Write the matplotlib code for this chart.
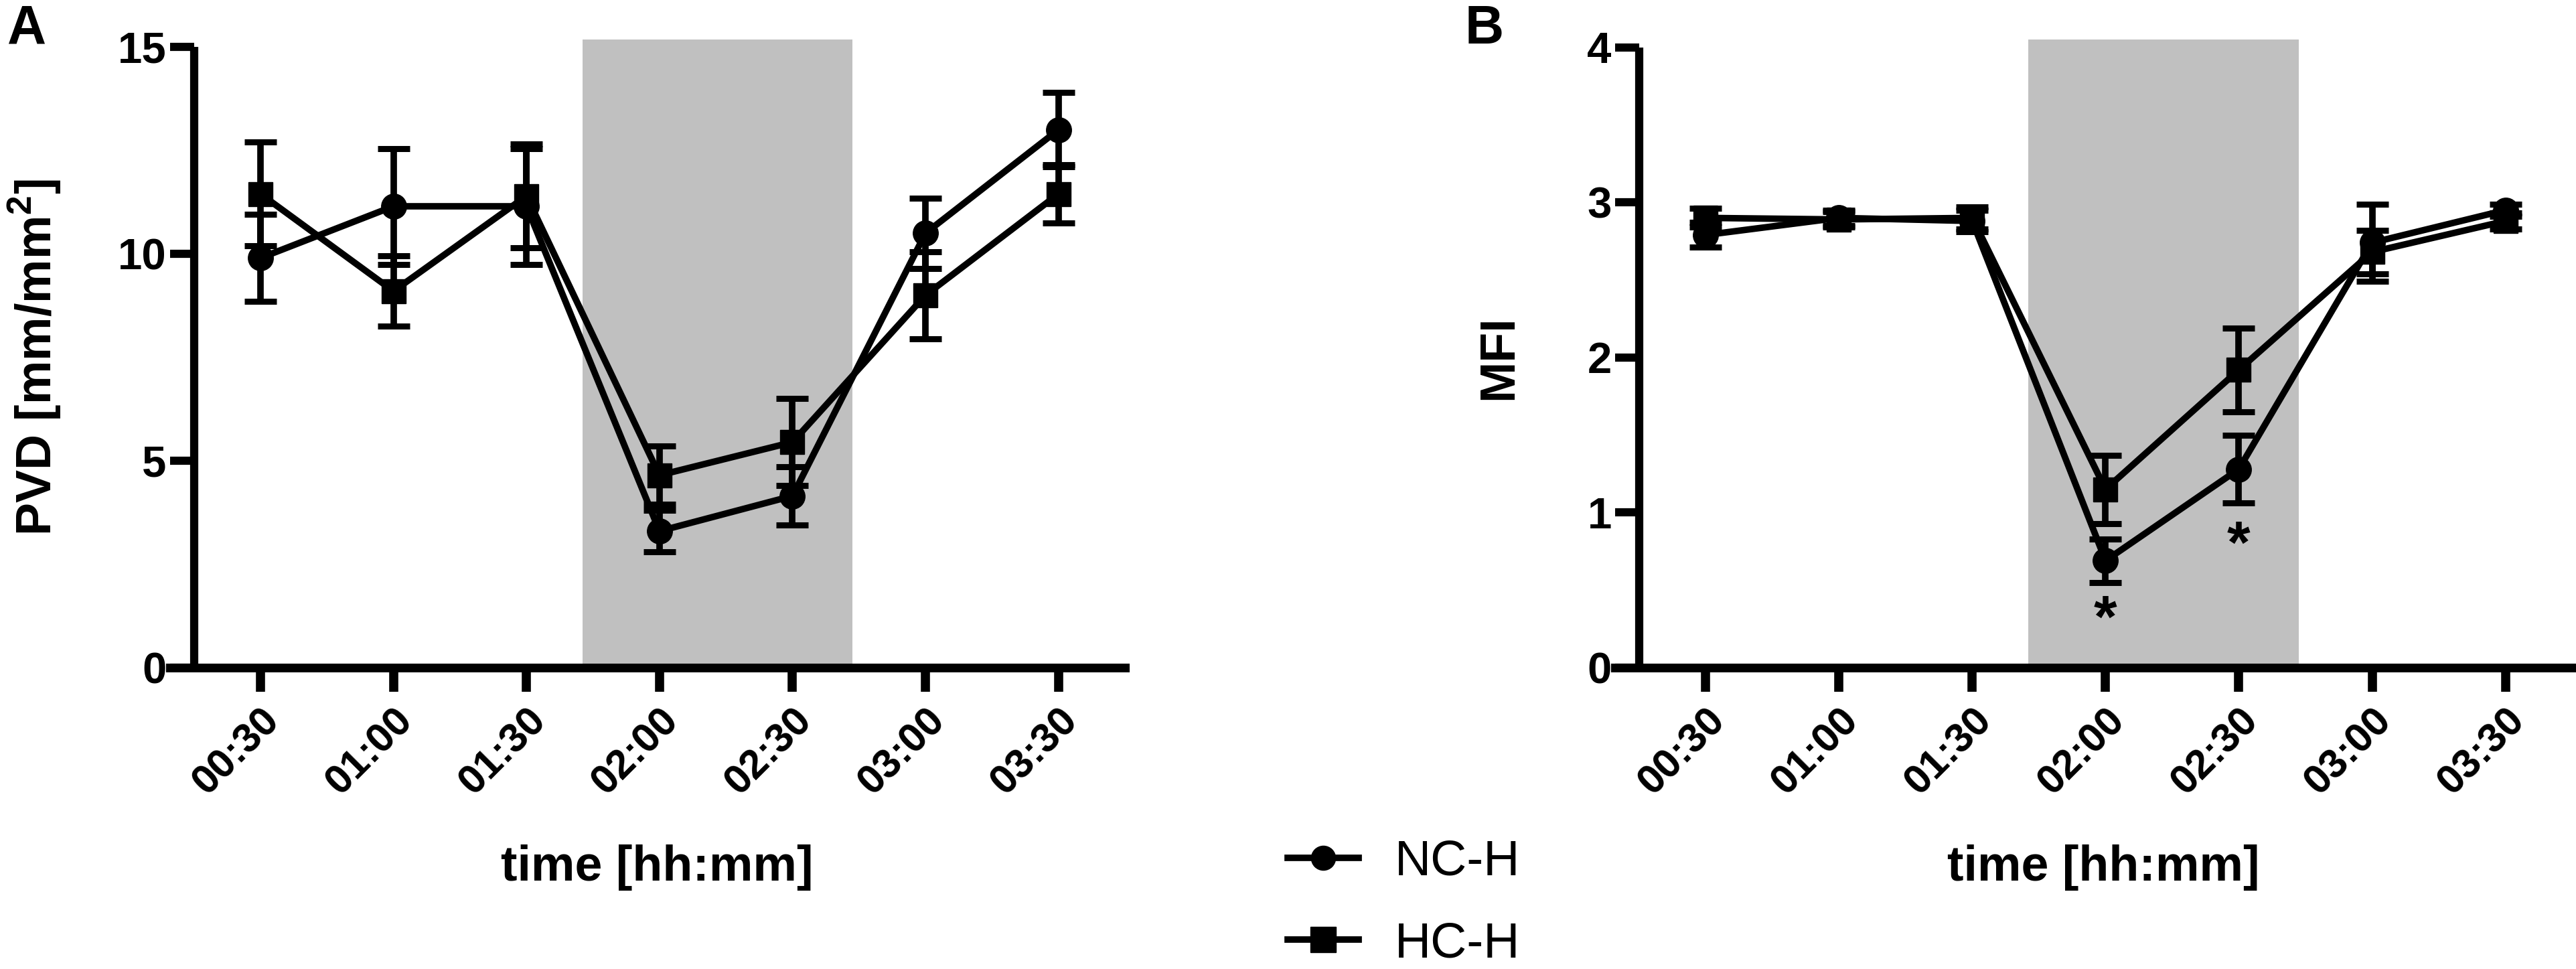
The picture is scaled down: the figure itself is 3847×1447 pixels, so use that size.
import matplotlib
matplotlib.use("Agg")
import matplotlib.pyplot as plt
from matplotlib.lines import Line2D
from matplotlib import font_manager
import numpy as np

# ---------------- data ----------------
times = ["00:30", "01:00", "01:30", "02:00", "02:30", "03:00", "03:30"]

pvd_nch = [9.9, 11.15, 11.15, 3.3, 4.15, 10.5, 13.0]
pvd_nch_err = [1.05, 1.4, 1.4, 0.5, 0.7, 0.85, 0.9]
pvd_hch = [11.45, 9.1, 11.4, 4.65, 5.45, 9.0, 11.45]
pvd_hch_err = [1.25, 0.85, 1.25, 0.7, 1.05, 1.05, 0.7]

mfi_nch = [2.79, 2.9, 2.88, 0.69, 1.28, 2.74, 2.95]
mfi_nch_err = [0.08, 0.05, 0.07, 0.14, 0.22, 0.25, 0.04]
mfi_hch = [2.9, 2.89, 2.9, 1.15, 1.92, 2.68, 2.88]
mfi_hch_err = [0.06, 0.05, 0.07, 0.22, 0.27, 0.14, 0.05]

shade_span = (2.42, 4.45)
series_labels = ["NC-H", "HC-H"]
star_positions = [3, 4]
star_values = [0.30, 0.78]

# ---------------- fonts ----------------
REG = ["Liberation Sans", "DejaVu Sans"]
try:
    font_manager.findfont(font_manager.FontProperties(
        family="Liberation Sans Narrow", weight="bold"),
        fallback_to_default=False)
    TICKFAM = ["Liberation Sans Narrow", "Liberation Sans", "DejaVu Sans"]
    TICKSIZE = 52
except Exception:
    TICKFAM = REG
    TICKSIZE = 47

plt.rcParams["font.family"] = REG
plt.rcParams["mathtext.fontset"] = "custom"
plt.rcParams["mathtext.rm"] = "Liberation Sans"
plt.rcParams["mathtext.bf"] = "Liberation Sans:bold"

fig = plt.figure(figsize=(38.48, 14.47), dpi=100)
bottom = 0.311
height = 0.6482
axA = fig.add_axes([0.0660, bottom, 0.3706, height])
axB = fig.add_axes([0.6268, bottom, 0.3714, height])

x = np.arange(len(times))
LW = 7
SPW = 8.8


def style_axis(ax, ymax_top, yticks, ylabel, label_x):
    ax.set_xlim(-0.68, 6.5)
    ax.set_ylim(0, ymax_top)
    for s in ["top", "right"]:
        ax.spines[s].set_visible(False)
    ax.spines["left"].set_position(("data", -0.5))
    ax.spines["left"].set_linewidth(SPW)
    ax.spines["bottom"].set_linewidth(SPW + 0.6)
    ax.spines["left"].set_bounds(0, yticks[-1])
    ax.spines["left"].set_capstyle("butt")
    ax.spines["bottom"].set_zorder(5)
    ax.set_yticks(yticks)
    ax.set_yticklabels([str(t) for t in yticks], fontfamily=TICKFAM,
                       fontweight="bold", fontsize=TICKSIZE)
    ax.set_xticks(x)
    ax.set_xticklabels(times, rotation=45, ha="right", va="top",
                       rotation_mode="anchor", fontfamily=TICKFAM,
                       fontweight="bold", fontsize=TICKSIZE - 3)
    ax.tick_params(axis="y", length=26, width=SPW, pad=3.5)
    ax.tick_params(axis="x", length=26, width=SPW + 1, pad=10)
    ax.set_ylabel(ylabel, fontfamily=REG, fontweight="bold", fontsize=53)
    ax.yaxis.set_label_coords(label_x, (yticks[-1] / 2) / ymax_top)
    ax.yaxis.label.set_va("center")
    ax.set_xlabel("time [hh:mm]", fontfamily=REG, fontweight="bold",
                  fontsize=53)
    ax.xaxis.set_label_coords(0.51, -0.318)
    ax.xaxis.label.set_va("center")
    ax.axvspan(shade_span[0], shade_span[1], color="#c0c0c0", zorder=0,
               lw=0)


def plot_series(ax, y1, e1, y2, e2):
    ax.errorbar(x, y1, yerr=e1, color="black", lw=LW, marker="o", ms=27,
                capsize=17, capthick=LW - 0.5, elinewidth=LW, zorder=3,
                clip_on=False)
    ax.errorbar(x, y2, yerr=e2, color="black", lw=LW, marker="s", ms=26,
                capsize=17, capthick=LW - 0.5, elinewidth=LW, zorder=3,
                clip_on=False)


plot_series(axA, pvd_nch, pvd_nch_err, pvd_hch, pvd_hch_err)
style_axis(axA, 15.18, [0, 5, 10, 15], r"PVD [mm/mm$^{\mathbf{2}}$]",
           -0.1417)

plot_series(axB, mfi_nch, mfi_nch_err, mfi_hch, mfi_hch_err)
style_axis(axB, 4.05, [0, 1, 2, 3, 4], "MFI", -0.121)

for px, py in zip(star_positions, star_values):
    axB.text(px, py, "*", ha="center", va="center", fontsize=64,
             fontweight="bold", fontfamily=REG)

fig.text(0.0104, 0.9696, "A", fontsize=58, fontweight="bold",
         fontfamily=REG, ha="center", va="center")
fig.text(0.5761, 0.9696, "B", fontsize=58, fontweight="bold",
         fontfamily=REG, ha="center", va="center")

handles = [
    Line2D([0], [0], color="black", lw=LW, marker="o", ms=26),
    Line2D([0], [0], color="black", lw=LW, marker="s", ms=27),
]
fig.legend(handles, series_labels, loc="upper left",
           bbox_to_anchor=(0.4997, 0.1341), frameon=False,
           borderpad=0, borderaxespad=0,
           handlelength=1.41, handletextpad=0.73, labelspacing=0.71,
           prop={"family": REG, "size": 54})

fig.savefig("out.png", dpi=100, facecolor="white")
